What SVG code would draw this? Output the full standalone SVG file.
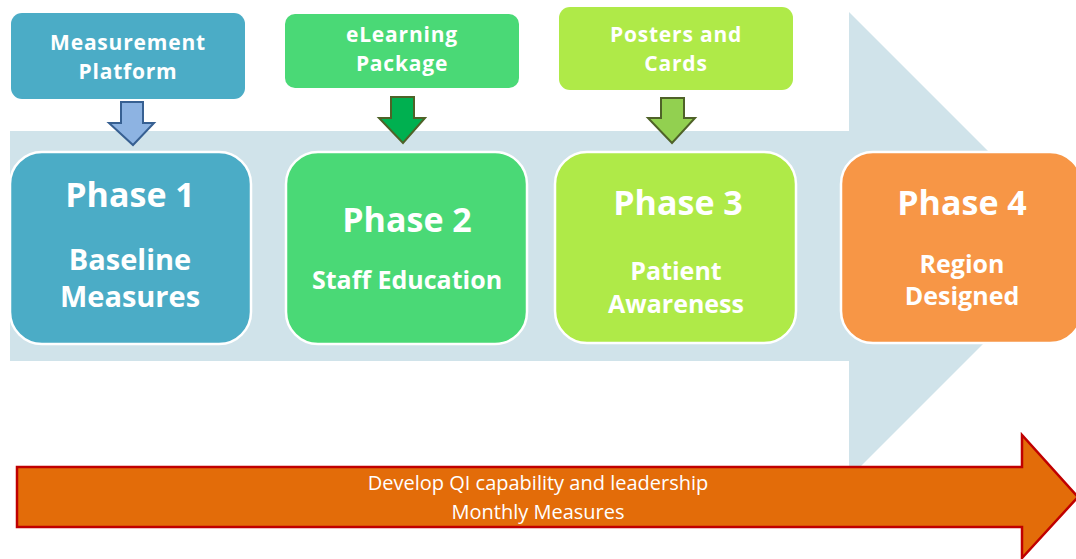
<svg xmlns="http://www.w3.org/2000/svg" width="1076" height="559" viewBox="0 0 1076 559">
<style>
  .t { font-family: "Open Sans", "Liberation Sans", sans-serif; font-weight: bold; fill: #FFFFFF; text-anchor: middle; }
  .s { font-size: 21px; letter-spacing: 0.8px; }
  .b { font-family: "Open Sans", "Liberation Sans", sans-serif; fill: #FFFFFF; text-anchor: middle; font-size: 20px; }
  .phase { stroke: #FFFFFF; stroke-width: 2.5; }
  .blue { fill: #4BACC6; }
  .green { fill: #4AD976; }
  .lime { fill: #AFEA48; }
  .orange { fill: #F79646; }
</style>
<rect width="1076" height="559" fill="#FFFFFF"/>
<g id="backbone">
  <polygon points="10,131 849,131 849,12 1082,245 849,478 849,361 10,361" fill="#D0E3EA"/>
</g>
<g id="timeline">
  <polygon points="17,467 1022,467 1022,435 1078,497 1022,558 1022,527 17,527" fill="#E36C09" stroke="#C00000" stroke-width="2.5"/>
  <text class="b" x="538" y="490">Develop QI capability and leadership</text>
  <text class="b" x="538" y="519">Monthly Measures</text>
</g>
<g id="connectors">
  <polygon points="121,102 143,102 143,123 154,123 133,145 109,123 121,123" fill="#8DB3E2" stroke="#376092" stroke-width="2"/>
  <polygon points="391,97 414,97 414,118 425,118 403,143 379,118 391,118" fill="#00B050" stroke="#4F6228" stroke-width="2"/>
  <polygon points="661,98 684,98 684,118 695,118 672,143 648,118 661,118" fill="#92D050" stroke="#4F6228" stroke-width="2"/>
</g>
<g id="measurement-platform">
  <rect class="blue" x="11" y="13" width="234" height="86" rx="11"/>
  <text class="t s" x="128" y="50">Measurement</text>
  <text class="t s" x="128" y="79">Platform</text>
</g>
<g id="elearning-package">
  <rect class="green" x="285" y="14" width="234" height="74" rx="10"/>
  <text class="t s" x="402" y="42">eLearning</text>
  <text class="t s" x="402" y="71">Package</text>
</g>
<g id="posters-cards">
  <rect class="lime" x="559" y="7" width="234" height="83" rx="11"/>
  <text class="t s" x="676" y="42">Posters and</text>
  <text class="t s" x="676" y="71">Cards</text>
</g>
<g id="phase1">
  <rect class="blue phase" x="10" y="152" width="241" height="192" rx="32"/>
  <text class="t" x="130" y="207" font-size="34">Phase 1</text>
  <text class="t" x="130" y="270" font-size="29">Baseline</text>
  <text class="t" x="130" y="307" font-size="29">Measures</text>
</g>
<g id="phase2">
  <rect class="green phase" x="286" y="152" width="241" height="192" rx="32"/>
  <text class="t" x="407" y="232" font-size="34">Phase 2</text>
  <text class="t" x="407" y="289" font-size="25">Staff Education</text>
</g>
<g id="phase3">
  <rect class="lime phase" x="555" y="152" width="241" height="191" rx="32"/>
  <text class="t" x="678" y="215" font-size="34">Phase 3</text>
  <text class="t" x="676" y="280" font-size="25">Patient</text>
  <text class="t" x="676" y="313" font-size="25">Awareness</text>
</g>
<g id="phase4">
  <rect class="orange phase" x="841" y="152" width="241" height="191" rx="32"/>
  <text class="t" x="962" y="215" font-size="34">Phase 4</text>
  <text class="t" x="962" y="273" font-size="25">Region</text>
  <text class="t" x="962" y="305" font-size="25">Designed</text>
</g>
</svg>
